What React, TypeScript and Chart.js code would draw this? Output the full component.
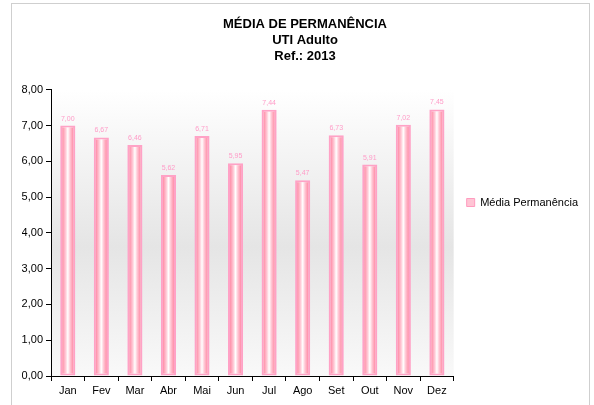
import React, { useEffect, useRef } from "react";
import { Chart, registerables } from "chart.js";

Chart.register(...registerables);

const categories = ["Jan", "Fev", "Mar", "Abr", "Mai", "Jun", "Jul", "Ago", "Set", "Out", "Nov", "Dez"];
const values = [7.0, 6.67, 6.46, 5.62, 6.71, 5.95, 7.44, 5.47, 6.73, 5.91, 7.02, 7.45];
const seriesName = "Média Permanência";
const titleLines = ["MÉDIA DE PERMANÊNCIA", "UTI Adulto", "Ref.: 2013"];
const yMin = 0;
const yMax = 8;
const yStep = 1;

const FONT = "'Liberation Sans', Arial, Helvetica, sans-serif";
const BAR_PCT = 0.45;

const fmt = (v: number) => v.toFixed(2).replace(".", ",");

function barGradient(ctx: any) {
  const chart = ctx.chart;
  const xs = chart.scales && chart.scales.x;
  if (!xs || !chart.chartArea || ctx.dataIndex === undefined) return "#ffc4d4";
  const cx = xs.getPixelForValue(ctx.dataIndex);
  const w = (xs.width / categories.length) * BAR_PCT;
  const g = chart.ctx.createLinearGradient(cx - w / 2, 0, cx + w / 2, 0);
  g.addColorStop(0, "#ff88a4");
  g.addColorStop(0.18, "#ff98b0");
  g.addColorStop(0.36, "#ffcbd7");
  g.addColorStop(0.5, "#ffffff");
  g.addColorStop(0.64, "#ffcbd7");
  g.addColorStop(0.82, "#ff98b0");
  g.addColorStop(1, "#ff88a4");
  return g;
}

const framePlugin = {
  id: "frame",
  beforeDraw(chart: any) {
    const { ctx, chartArea } = chart;
    ctx.save();
    ctx.fillStyle = "#ffffff";
    ctx.fillRect(0, 0, chart.width, chart.height);
    ctx.strokeStyle = "#cfcfcf";
    ctx.lineWidth = 1;
    ctx.strokeRect(11.5, 3.5, 578, 420);
    const g = ctx.createLinearGradient(0, chartArea.top, 0, chartArea.bottom);
    g.addColorStop(0, "#ffffff");
    g.addColorStop(0.55, "#e5e5e5");
    g.addColorStop(1, "#f9f9f9");
    ctx.fillStyle = g;
    ctx.fillRect(chartArea.left, chartArea.top, chartArea.right - chartArea.left, chartArea.bottom - chartArea.top);
    ctx.restore();
  },
};

const valueLabelPlugin = {
  id: "valueLabels",
  afterDatasetsDraw(chart: any) {
    const { ctx } = chart;
    const meta = chart.getDatasetMeta(0);
    ctx.save();
    ctx.font = `7px ${FONT}`;
    ctx.fillStyle = "#ff9cc8";
    ctx.textAlign = "center";
    ctx.textBaseline = "middle";
    meta.data.forEach((el: any, i: number) => {
      ctx.fillText(fmt(values[i]), el.x, el.y - 7);
    });
    ctx.restore();
  },
};

export default function App() {
  const ref = useRef<HTMLCanvasElement | null>(null);

  useEffect(() => {
    if (!ref.current) return;
    const chart = new Chart(ref.current, {
      type: "bar",
      data: {
        labels: categories,
        datasets: [
          {
            label: seriesName,
            data: values,
            backgroundColor: barGradient as any,
            borderColor: "#ffa2c6",
            borderWidth: 2,
            borderSkipped: false,
            barPercentage: BAR_PCT,
            categoryPercentage: 1,
          },
        ],
      },
      options: {
        responsive: false,
        animation: false,
        devicePixelRatio: 1,
        layout: { padding: { top: 0, left: 22, right: 6, bottom: 0 } },
        plugins: {
          title: {
            display: true,
            text: titleLines,
            color: "#000000",
            font: { family: FONT, size: 13, weight: "bold", lineHeight: 1.2 },
            padding: { top: 17, bottom: 26 },
          },
          legend: {
            display: true,
            position: "right",
            align: "center",
            labels: {
              boxWidth: 8,
              boxHeight: 8,
              padding: 13,
              color: "#222222",
              font: { family: FONT, size: 11 },
              generateLabels: () => [
                {
                  text: seriesName,
                  fillStyle: "#ffc4d4",
                  strokeStyle: "#ff9cbf",
                  lineWidth: 1,
                  hidden: false,
                  datasetIndex: 0,
                } as any,
              ],
            },
          },
          tooltip: { enabled: false },
        },
        scales: {
          x: {
            grid: {
              display: true,
              drawOnChartArea: false,
              drawTicks: true,
              tickLength: 5,
              color: "#000000",
              offset: true,
            },
            border: { display: true, color: "#000000", width: 1 },
            ticks: {
              color: "#000000",
              padding: 3,
              font: { family: FONT, size: 11 },
              maxRotation: 0,
              autoSkip: false,
            },
            afterFit: (scale: any) => {
              scale.height = 29;
            },
          },
          y: {
            min: yMin,
            max: yMax,
            grid: {
              display: true,
              drawOnChartArea: false,
              drawTicks: true,
              tickLength: 5,
              color: "#000000",
            },
            border: { display: true, color: "#000000", width: 1 },
            ticks: {
              stepSize: yStep,
              color: "#000000",
              padding: 3,
              font: { family: FONT, size: 11 },
              callback: (v: any) => fmt(Number(v)),
            },
            afterFit: (scale: any) => {
              scale.width = 29;
            },
          },
        },
      },
      plugins: [framePlugin, valueLabelPlugin],
    });
    return () => chart.destroy();
  }, []);

  return (
    <div style={{ position: "absolute", left: 0, top: 0, width: 594, height: 405 }}>
      <canvas ref={ref} width={594} height={405} style={{ display: "block" }} />
    </div>
  );
}
